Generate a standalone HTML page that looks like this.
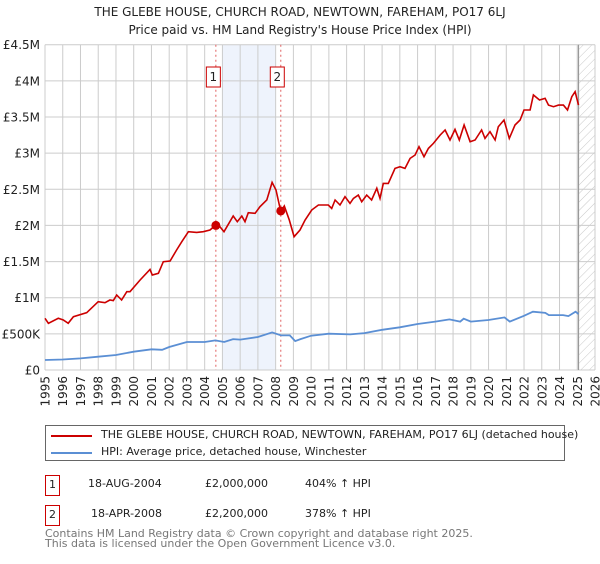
<!DOCTYPE html>
<html><head><meta charset="utf-8"><style>
body{margin:0;background:#fff;font-family:"DejaVu Sans","Liberation Sans",sans-serif;}
svg text{font-family:"DejaVu Sans","Liberation Sans",sans-serif;}
</style></head><body>
<svg id="c" width="600" height="560" xmlns="http://www.w3.org/2000/svg">
<defs><pattern id="hatch" width="6" height="6" patternUnits="userSpaceOnUse" patternTransform="rotate(45)"><line x1="0" y1="0" x2="0" y2="6" stroke="#bbb" stroke-width="0.8"/></pattern></defs>
<text x="300" y="16" text-anchor="middle" font-size="12" fill="#222">THE GLEBE HOUSE, CHURCH ROAD, NEWTOWN, FAREHAM, PO17 6LJ</text>
<text x="300" y="34" text-anchor="middle" font-size="12" fill="#222">Price paid vs. HM Land Registry's House Price Index (HPI)</text>
<g id="grid"></g><g id="marks"></g><g id="axes"></g>
</svg>
<script>
const yearTicks=[1995,1996,1997,1998,1999,2000,2001,2002,2003,2004,2005,2006,2007,2008,2009,2010,2011,2012,2013,2014,2015,2016,2017,2018,2019,2020,2021,2022,2023,2024,2025,2026];
const yTickValues=[0,0.5,1,1.5,2,2.5,3,3.5,4,4.5];
const yTickLabels=["£0","£500K","£1M","£1.5M","£2M","£2.5M","£3M","£3.5M","£4M","£4.5M"];
const redYears=[1995.00,1995.19,1995.75,1996.03,1996.31,1996.60,1997.35,1998.00,1998.38,1998.66,1998.85,1999.04,1999.32,1999.61,1999.79,2000.36,2000.92,2001.05,2001.39,2001.67,2002.05,2002.42,2002.71,2003.08,2003.55,2003.92,2004.30,2004.62,2004.86,2005.09,2005.61,2005.84,2006.09,2006.27,2006.46,2006.84,2007.12,2007.50,2007.80,2008.02,2008.29,2008.49,2008.77,2009.04,2009.37,2009.66,2010.03,2010.41,2010.97,2011.16,2011.35,2011.63,2011.91,2012.19,2012.38,2012.66,2012.85,2013.13,2013.41,2013.70,2013.88,2014.07,2014.35,2014.73,2015.01,2015.29,2015.58,2015.86,2016.08,2016.36,2016.61,2016.89,2017.27,2017.55,2017.83,2018.11,2018.35,2018.62,2018.96,2019.24,2019.61,2019.80,2020.08,2020.37,2020.55,2020.87,2021.17,2021.49,2021.78,2022.00,2022.34,2022.53,2022.87,2023.19,2023.38,2023.66,2023.94,2024.22,2024.45,2024.69,2024.88,2025.07];
const redValues=[0.715,0.646,0.715,0.692,0.646,0.738,0.793,0.945,0.931,0.968,0.960,1.037,0.968,1.083,1.083,1.245,1.392,1.314,1.337,1.498,1.508,1.660,1.775,1.913,1.904,1.913,1.936,2.005,1.982,1.913,2.130,2.051,2.130,2.051,2.176,2.167,2.259,2.351,2.595,2.490,2.190,2.268,2.075,1.844,1.936,2.075,2.213,2.282,2.282,2.236,2.351,2.282,2.397,2.305,2.374,2.420,2.328,2.420,2.351,2.513,2.374,2.582,2.582,2.789,2.812,2.789,2.927,2.974,3.089,2.950,3.066,3.135,3.250,3.320,3.181,3.329,3.181,3.389,3.158,3.181,3.320,3.204,3.296,3.181,3.366,3.458,3.204,3.389,3.458,3.596,3.596,3.804,3.735,3.758,3.665,3.642,3.665,3.665,3.596,3.781,3.850,3.665];
const blueYears=[1995.0,1996.0,1997.0,1998.0,1999.0,2000.0,2001.0,2001.6,2002.0,2003.0,2004.0,2004.6,2005.1,2005.6,2006.0,2007.0,2007.8,2008.3,2008.8,2009.1,2009.4,2010.0,2011.0,2012.2,2013.0,2014.0,2015.0,2016.0,2017.0,2017.8,2018.4,2018.6,2019.0,2020.0,2020.9,2021.2,2022.0,2022.5,2023.2,2023.4,2024.2,2024.5,2024.9,2025.07];
const blueValues=[0.138,0.145,0.161,0.184,0.207,0.253,0.286,0.280,0.318,0.387,0.387,0.410,0.387,0.428,0.420,0.456,0.520,0.479,0.479,0.400,0.428,0.474,0.502,0.493,0.510,0.556,0.590,0.637,0.670,0.700,0.670,0.710,0.670,0.691,0.728,0.670,0.750,0.806,0.790,0.760,0.760,0.745,0.806,0.775];
const saleYears=[2004.63,2008.29];
const saleValues=[2.0,2.2];
const saleLabels=["1","2"];
const shadeYears=[2005.0,2008.0];
const lastDataYear=2025.07;

const NS="http://www.w3.org/2000/svg";
const X0=45,X1=595,Y0=370,Y1=44.7;
const xS=y=>X0+(y-1995)/(2026-1995)*(X1-X0);
const yS=v=>Y0-v/4.5*(Y0-Y1);
function mk(tag,attrs,parent,txt){const e=document.createElementNS(NS,tag);for(const k in attrs)e.setAttribute(k,attrs[k]);if(txt!==undefined)e.textContent=txt;parent.appendChild(e);return e;}
const grid=document.getElementById('grid'),marks=document.getElementById('marks'),axes=document.getElementById('axes');

let sh=mk('rect',{x:xS(shadeYears[0]),y:Y1,width:xS(shadeYears[1])-xS(shadeYears[0]),height:Y0-Y1,fill:'#eef3fc'},grid);


let ht=mk('rect',{x:xS(lastDataYear),y:Y1,width:X1-xS(lastDataYear),height:Y0-Y1,fill:'url(#hatch)'},grid);



yearTicks.forEach(yr=>{
  const l=mk('line',{x1:xS(yr),x2:xS(yr),y1:Y1,y2:Y0,stroke:'#ccc','stroke-width':1},grid);
  
  
  const t=mk('text',{x:0,y:0,'font-size':12,fill:'#222','text-anchor':'end',transform:`translate(${xS(yr)+4.5},376) rotate(-90)`},axes,String(yr));
  
  
});
yTickValues.forEach((v,i)=>{
  const l=mk('line',{x1:X0,x2:X1,y1:yS(v),y2:yS(v),stroke:'#ccc','stroke-width':1},grid);
  
  
  const t=mk('text',{x:40,y:yS(v)+4.5,'font-size':12,fill:'#222','text-anchor':'end'},axes,yTickLabels[i]);
  
  
});
let ll=mk('line',{x1:xS(lastDataYear),x2:xS(lastDataYear),y1:Y1,y2:Y0,stroke:'#999','stroke-width':1.2},grid);



saleYears.forEach((yr,i)=>{
  const l=mk('line',{x1:xS(yr),x2:xS(yr),y1:Y1,y2:Y0,stroke:'#e06060','stroke-width':1,'stroke-dasharray':'2,3'},marks);
  
  
  const bx=xS(yr)-(i==0?10:-1.5)-(i==0?0:6);
  const g=mk('g',{},marks);
  
  
  const cx=xS(yr)+(i==0?-3:-4);
  mk('rect',{x:cx-6.5,y:67,width:14,height:20,fill:'#fff',stroke:'#c00','stroke-width':1},g);
  mk('text',{x:cx+0.5,y:81,'font-size':12,'text-anchor':'middle',fill:'#222'},g,saleLabels[i]);
});

function path(xs,vs){return xs.map((y,i)=>(i?'L':'M')+xS(y).toFixed(1)+','+yS(vs[i]).toFixed(1)).join('');}
let bp=mk('path',{d:path(blueYears,blueValues),fill:'none',stroke:'#5b8fd4','stroke-width':1.8},marks);


let rp=mk('path',{d:path(redYears,redValues),fill:'none',stroke:'#cc0000','stroke-width':1.6},marks);


saleYears.forEach((yr,i)=>{
  const c=mk('circle',{cx:xS(yr),cy:yS(saleValues[i]),r:4.5,fill:'#cc0000'},marks);
  
  
});
</script>
<div style="position:absolute;left:45px;top:425px;width:520px;height:36px;border:1px solid #666;box-sizing:border-box;font-size:11px;color:#222;">
 <div style="position:absolute;left:5px;top:9px;width:41px;height:2px;background:#cc0000"></div>
 <div style="position:absolute;left:55px;top:2px;white-space:nowrap">THE GLEBE HOUSE, CHURCH ROAD, NEWTOWN, FAREHAM, PO17 6LJ (detached house)</div>
 <div style="position:absolute;left:5px;top:26px;width:41px;height:2px;background:#5b8fd4"></div>
 <div style="position:absolute;left:55px;top:19px;white-space:nowrap">HPI: Average price, detached house, Winchester</div>
</div>
<div style="position:absolute;left:0;top:0;font-size:11px;color:#222">
 <div style="position:absolute;left:45px;top:475px;width:13px;height:19px;border:1px solid #c00;text-align:center;line-height:18px">1</div>
 <div style="position:absolute;left:88px;top:477px;white-space:nowrap">18-AUG-2004</div>
 <div style="position:absolute;left:205px;top:477px;white-space:nowrap">£2,000,000</div>
 <div style="position:absolute;left:305px;top:477px;white-space:nowrap">404% ↑ HPI</div>
 <div style="position:absolute;left:45px;top:505px;width:13px;height:19px;border:1px solid #c00;text-align:center;line-height:18px">2</div>
 <div style="position:absolute;left:91px;top:507px;white-space:nowrap">18-APR-2008</div>
 <div style="position:absolute;left:205px;top:507px;white-space:nowrap">£2,200,000</div>
 <div style="position:absolute;left:305px;top:507px;white-space:nowrap">378% ↑ HPI</div>
 <div style="position:absolute;left:45px;top:529px;white-space:nowrap;color:#777;line-height:10px">Contains HM Land Registry data © Crown copyright and database right 2025.<br>This data is licensed under the Open Government Licence v3.0.</div>
</div>
</body></html>
